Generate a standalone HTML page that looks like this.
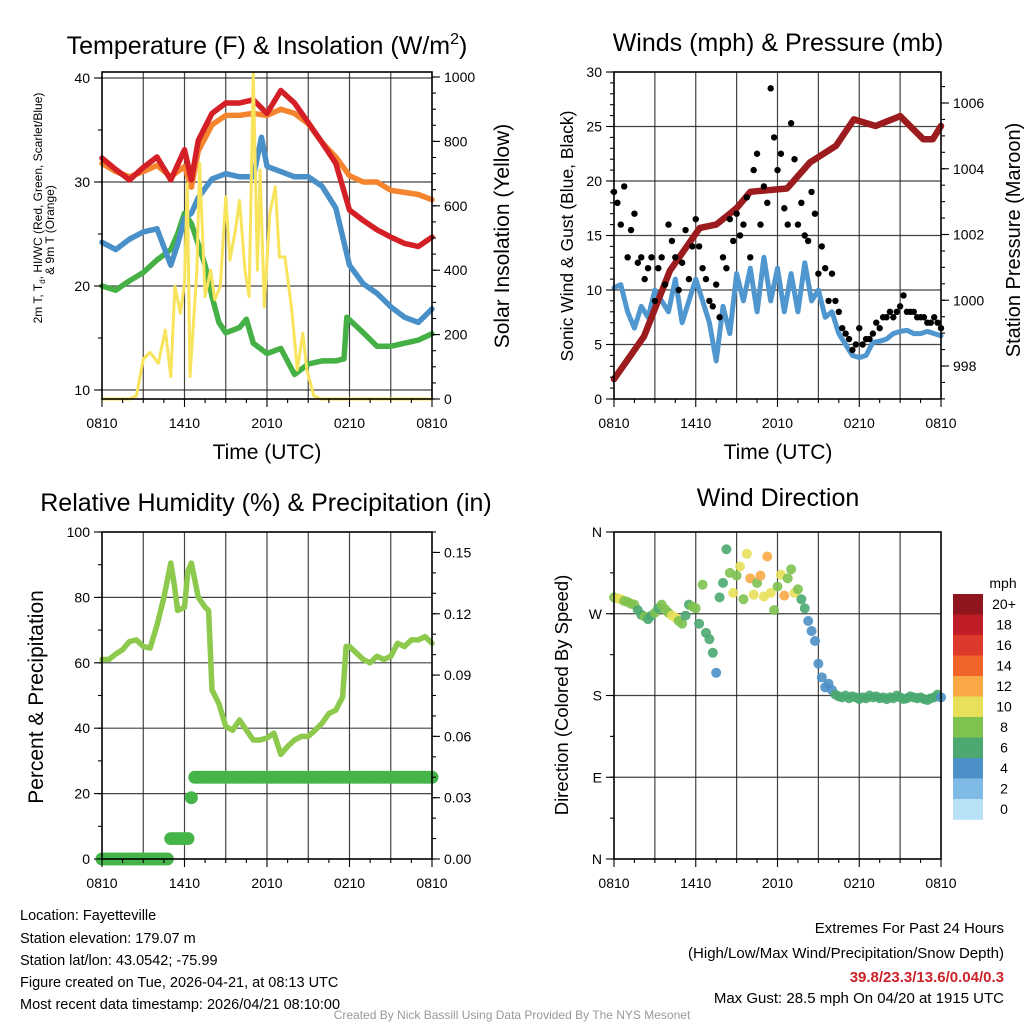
<!DOCTYPE html>
<html><head><meta charset="utf-8"><title>Mesonet Station Meteogram</title>
<style>
html,body{margin:0;padding:0;background:#fff;}
svg{display:block;font-family:"Liberation Sans",Arial,sans-serif;}
</style></head>
<body>
<svg id="chart" width="1024" height="1024" viewBox="0 0 1024 1024" xmlns="http://www.w3.org/2000/svg">
<rect x="0" y="0" width="1024" height="1024" fill="#fff"/>
<g id="grids"></g>
<g id="marks"></g>
<g id="axes"></g>

<text x="267" y="54" font-size="25" text-anchor="middle">Temperature (F) &amp; Insolation (W/m<tspan dy="-10" font-size="16">2</tspan><tspan dy="10">)</tspan></text>
<text x="778" y="51" font-size="25" text-anchor="middle">Winds (mph) &amp; Pressure (mb)</text>
<text x="266" y="511" font-size="25" text-anchor="middle">Relative Humidity (%) &amp; Precipitation (in)</text>
<text x="778" y="506" font-size="25" text-anchor="middle">Wind Direction</text>

<text transform="translate(42,208) rotate(-90)" font-size="12" text-anchor="middle">2m T, T<tspan font-size="8" dy="3">d</tspan><tspan dy="-3">, HI/WC (Red, Green, Scarlet/Blue)</tspan></text>
<text transform="translate(54,230) rotate(-90)" font-size="12" text-anchor="middle">&amp; 9m T (Orange)</text>
<text transform="translate(509,236) rotate(-90)" font-size="21" text-anchor="middle">Solar Insolation (Yellow)</text>
<text x="267" y="459" font-size="21" text-anchor="middle">Time (UTC)</text>

<text transform="translate(573,236) rotate(-90)" font-size="17.5" text-anchor="middle">Sonic Wind &amp; Gust (Blue, Black)</text>
<text transform="translate(1020,240) rotate(-90)" font-size="20" text-anchor="middle">Station Pressure (Maroon)</text>
<text x="778" y="459" font-size="21" text-anchor="middle">Time (UTC)</text>

<text transform="translate(43,697) rotate(-90)" font-size="21" text-anchor="middle">Percent &amp; Precipitation</text>
<text transform="translate(568,695) rotate(-90)" font-size="18.5" text-anchor="middle">Direction (Colored By Speed)</text>

<text x="1003" y="588" font-size="14" text-anchor="middle">mph</text>
<g id="colorbar"></g>

<g font-size="14.5">
<text x="20" y="920">Location: Fayetteville</text>
<text x="20" y="943">Station elevation: 179.07 m</text>
<text x="20" y="965">Station lat/lon: 43.0542; -75.99</text>
<text x="20" y="987">Figure created on Tue, 2026-04-21, at 08:13 UTC</text>
<text x="20" y="1009">Most recent data timestamp: 2026/04/21 08:10:00</text>
</g>
<g font-size="15" text-anchor="end">
<text x="1004" y="933">Extremes For Past 24 Hours</text>
<text x="1004" y="958">(High/Low/Max Wind/Precipitation/Snow Depth)</text>
<text x="1004" y="982" fill="#cc2229" font-weight="bold">39.8/23.3/13.6/0.04/0.3</text>
<text x="1004" y="1003">Max Gust: 28.5 mph On 04/20 at 1915 UTC</text>
</g>
<text x="512" y="1019" font-size="12" fill="#999" text-anchor="middle">Created By Nick Bassill Using Data Provided By The NYS Mesonet</text>
</svg>

<script>
// ---------- data ----------
const xTickLabels = ["0810","1410","2010","0210","0810"];
const redHours = [0,1,2,3,4,5,6,6.5,7,8,9,10,11,12,13,14,15,16,17,18,19,20,21,22,23,24];
const redTemp = [32.3,31.2,30.2,31.4,32.4,30.2,33.1,30.2,34,36.6,37.6,37.6,37.9,36.6,38.8,37.6,35.7,33.8,31.8,27.3,26.3,25.4,24.7,24.1,23.8,24.7];
const orangeTemp = [31.8,31,30.5,31,31.6,30.5,31.5,29.5,33,35.5,36.4,36.4,36.6,36.4,37,36.6,35.6,33.8,32.4,30.6,30,30,29.2,29,28.8,28.3];
const blueHours = [0,1,2,3,4,5,5.5,6,6.5,7,8,9,10,11,11.6,12,13,14,15,16,17,18,19,20,21,22,23,24];
const blueTemp = [24.2,23.5,24.5,25.2,25.5,22,24,26.5,27,28.5,30.3,30.8,30.5,30.5,34.3,31.5,31,30.5,30.5,29.6,27.5,22,20.2,19.3,18,17,16.5,17.8];
const greenHours = [0,1,2,3,4,5,5.5,6,6.5,7,7.5,8,8.5,9,10,10.5,11,12,13,14,15,16,17,17.6,17.8,19,20,21,22,23,24];
const greenTemp = [20,19.6,20.5,21.3,22.5,23.5,25,27,26,24,22,19,16.5,15.5,16,16.8,14.5,13.5,14,11.5,12.5,12.8,12.8,13,17,15.5,14.2,14.2,14.5,14.8,15.4];
const solarHours = [0,2,2.5,3,3.5,4.1,4.6,5.0,5.3,5.7,6.0,6.2,6.4,6.9,7.1,7.5,7.9,8.2,8.6,9.0,9.3,9.7,10.0,10.4,10.7,11.0,11.3,11.5,11.8,12.2,12.6,12.9,13.3,13.8,14.2,14.6,14.9,15.4,15.9,24];
const solarVals = [0,0,10,124,145,111,214,70,350,266,358,669,70,400,732,318,400,308,350,628,431,524,617,400,318,1011,400,711,287,576,659,441,441,276,90,204,90,10,0,0];

const pressHours = [0,2.2,4.1,6.3,7.5,9,10,12.7,14.4,16.3,17.6,19.2,21,22.7,23.4,24];
const pressVals = [997.6,998.9,1000.9,1002.2,1002.3,1002.8,1003.3,1003.4,1004.2,1004.7,1005.5,1005.3,1005.6,1004.9,1004.9,1005.3];
const windVals = [10.2,10.5,8,6.5,8.5,7.5,10,9,8,11,7,9,11,9,7,3.5,8.5,6,11.5,9,12,8,13,9,12,8,11.5,8,12.5,9,10,7.5,8,6,5,4,3.8,4,5.2,5.3,5.5,6,6.2,6.3,6,6,6.2,6,5.8];
const gustVals = [19,18,16,19.5,13,15.5,17,12.5,13,11,12,13,9,12,13,10.5,16,14.5,13,10,12.5,15.5,11,14,16.5,14,12,11,9,8.5,10.5,7.5,13,12,16.5,14.5,17,15,16,18.5,13,21,22.5,16,19.5,18,28.5,24,21,22.5,17.5,16,25.3,22,16,18,15,14.5,19,17,11.5,14,12,9,11.5,9,8,6.5,6,5.5,4.5,5,6.5,5,5.5,5.5,6,7,6.5,7.5,7.5,8,7.5,8,8.5,9.5,8,8,8,7.5,7.5,7.5,7,7,7.5,7,6.5];

const rhHours = [0,0.5,1,1.5,2,2.5,3,3.5,4,4.5,5,5.25,5.5,6,6.25,6.5,7,7.5,7.75,8,8.5,9,9.5,10,10.5,11,11.5,12,12.5,13,13.5,14,14.5,15,15.5,16,16.5,17,17.5,17.75,18,18.5,19,19.5,20,20.5,21,21.5,22,22.5,23,23.5,24];
const rhVals = [61,61,62.7,64,66.5,67,65,64.5,71.5,80,90.5,84,76,77,88,90.5,80,77,76,51.7,47.5,40.5,39.4,42.5,39.4,36.4,36.4,37,38.5,32,34.4,36.4,37.5,37.5,39.4,41.5,44.5,45.5,49.5,65,65,63,61,60,62,61,62,66,65,67,67,68,66];
const precipVals = [0,0,0,0,0,0,0,0,0,0,0,0,0,0,0,0,0,0,0,0,0.01,0.01,0.01,0.01,0.01,0.01,0.03,0.04,0.04,0.04,0.04,0.04,0.04,0.04,0.04,0.04,0.04,0.04,0.04,0.04,0.04,0.04,0.04,0.04,0.04,0.04,0.04,0.04,0.04,0.04,0.04,0.04,0.04,0.04,0.04,0.04,0.04,0.04,0.04,0.04,0.04,0.04,0.04,0.04,0.04,0.04,0.04,0.04,0.04,0.04,0.04,0.04,0.04,0.04,0.04,0.04,0.04,0.04,0.04,0.04,0.04,0.04,0.04,0.04,0.04,0.04,0.04,0.04,0.04,0.04,0.04,0.04,0.04,0.04,0.04,0.04,0.04];

const dirVals = [288,287,286,284,283,281,280,274,269,267,264,268,271,276,280,275,271,268,266,262,259,268,280,278,276,259,302,249,242,227,205,288,304,341,315,293,312,322,286,336,309,291,304,312,289,333,293,274,300,313,290,309,319,293,297,286,276,262,251,240,215,200,189,193,186,181,179,178,180,177,179,178,176,178,177,180,178,179,177,178,176,178,177,180,178,176,177,179,178,177,178,176,175,177,178,181,178];
const dirSpeed = [9,10,10,9,8,9,8,7,7,8,7,7,8,7,9,8,9,10,10,9,8,7,7,8,9,7,8,7,6,6,4,7,7,7,9,10,8,10,9,10,12,11,9,13,10,12,11,9,8,11,12,9,8,10,9,7,6,4,4,4,4,4,4,4,4,6,6,6,7,6,6,6,6,6,7,6,6,6,6,6,6,7,6,6,6,6,6,6,6,7,6,6,6,6,6,6,4];
const cbLabels = ["20+","18","16","14","12","10","8","6","4","2","0"];
const cbColors = ["#8f161c","#c01d26","#de3a2c","#f1652b","#f8a846","#e8e05a","#7ec250","#4aa870","#4b90c8","#7fbbe6","#b8e2f8"];

// ---------- helpers ----------
const NS = "http://www.w3.org/2000/svg";
const G = document.getElementById("grids"), M = document.getElementById("marks"), A = document.getElementById("axes");
function mk(parent, tag, attrs){const e=document.createElementNS(NS,tag);for(const k in attrs)e.setAttribute(k,attrs[k]);parent.appendChild(e);return e;}
function lin(d0,d1,r0,r1){return v=>r0+(v-d0)*(r1-r0)/(d1-d0);}

const P = {
  temp:{x0:102,x1:432,y0:72,y1:399},
  wind:{x0:614,x1:941,y0:72,y1:399},
  rh:{x0:102,x1:432,y0:532,y1:859},
  dir:{x0:614,x1:941,y0:532,y1:859}
};
const xs = {}; for(const k in P){xs[k]=lin(0,24,P[k].x0,P[k].x1);}
const yTemp = lin(10,40,390,78), ySolar = lin(0,1000,399,77);
const yWind = lin(0,30,399,72), yPress = lin(998,1006,366,103);
const yRH = lin(0,100,859,532), yPrecip = lin(0,0.16,859,532);
const yDir = lin(0,360,859,532);

function path(xf,yf,hrs,vals){return vals.map((v,i)=>(i?"L":"M")+xf(hrs[i]).toFixed(1)+","+yf(v).toFixed(1)).join("");}
function idxHours(n){return Array.from({length:n},(_,i)=>i*24/(n-1));}

// ---------- grids ----------
function grid(p,ys){
  const b=P[p];
  for(let h=3;h<24;h+=3){const l=mk(G,"line",{x1:xs[p](h),x2:xs[p](h),y1:b.y0,y2:b.y1,stroke:"#222","stroke-width":1.2,"stroke-opacity":0.85});
    
    }
  ys.forEach(y=>{const l=mk(G,"line",{x1:b.x0,x2:b.x1,y1:y,y2:y,stroke:"#222","stroke-width":1.2,"stroke-opacity":0.85});
    
    });
}
grid("temp",[10,20,30,40].map(yTemp));
grid("wind",[5,10,15,20,25].map(yWind));
grid("rh",[20,40,60,80].map(yRH));
grid("dir",[90,180,270].map(yDir));

// ---------- panel 1 ----------
function line(d,color,w,name){const e=mk(M,"path",{d:d,fill:"none",stroke:color,"stroke-width":w,"stroke-linejoin":"round","stroke-linecap":"round"});
  
  return e;}
line(path(xs.temp,yTemp,greenHours,greenTemp),"#44b045",5.5,"dewpoint-line");
line(path(xs.temp,yTemp,blueHours,blueTemp),"#4a90c8",5.5,"heat-index-windchill-line");
line(path(xs.temp,yTemp,redHours,orangeTemp),"#f5842f",5.5,"9m-temperature-line");
line(path(xs.temp,yTemp,redHours,redTemp),"#d41f26",5.5,"2m-temperature-line");
line(path(xs.temp,ySolar,solarHours,solarVals),"#f8e35c",3,"solar-insolation-line");

// ---------- panel 2 ----------
line(path(xs.wind,yWind,idxHours(windVals.length),windVals),"#5097d0",5,"sonic-wind-line");
line(path(xs.wind,yPress,pressHours,pressVals),"#9b1b1e",6.5,"station-pressure-line");
const gh = idxHours(gustVals.length);
gustVals.forEach((v,i)=>{const c=mk(M,"circle",{cx:xs.wind(gh[i]),cy:yWind(v),r:3.2,fill:"#000"});
  
  });

// ---------- panel 3 ----------
line(path(xs.rh,yRH,rhHours,rhVals),"#8dc94c",5.5,"relative-humidity-line");
const ph = idxHours(precipVals.length);
precipVals.forEach((v,i)=>{const c=mk(M,"circle",{cx:xs.rh(ph[i]),cy:yPrecip(v),r:6.5,fill:"#45b449"});
  
  });

// ---------- panel 4 ----------
const dh = idxHours(dirVals.length);
dirVals.forEach((v,i)=>{const k=Math.min(10,Math.floor(dirSpeed[i]/2));
  const c=mk(M,"circle",{cx:xs.dir(dh[i]),cy:yDir(v),r:5,fill:cbColors[10-k],"fill-opacity":0.9});
  
  });

// colorbar
const CB=document.getElementById("colorbar");
cbLabels.forEach((lab,i)=>{const y=594+i*20.5;
  const r=mk(CB,"rect",{x:953,y:y,width:30,height:20.8,fill:cbColors[i]});
  
  
  const t=mk(CB,"text",{x:1004,y:y+15,"font-size":14,"text-anchor":"middle"});t.textContent=lab;
  
  });

// ---------- axes ----------
function frame(p){const b=P[p];const r=mk(A,"rect",{x:b.x0,y:b.y0,width:b.x1-b.x0,height:b.y1-b.y0,fill:"none",stroke:"#000","stroke-width":1.6});
  
  }
function tick(x1,y1,x2,y2){const l=mk(A,"line",{x1,y1,x2,y2,stroke:"#000","stroke-width":1.1});
  
  }
function label(x,y,txt,anchor,size){const t=mk(A,"text",{x,y,"text-anchor":anchor,"font-size":size||14});t.textContent=txt;
  
  }
function yAxis(p,side,vals,yf,fmt,minorVals){
  const b=P[p];const x=side==="L"?b.x0:b.x1;const s=side==="L"?-1:1;
  minorVals.forEach(v=>{const y=yf(v);if(y>=b.y0-0.5&&y<=b.y1+0.5)tick(x,y,x+s*4,y);});
  vals.forEach((v,i)=>{const y=yf(v);tick(x,y,x+s*8,y);label(x+s*12,y+5,fmt(v,i),side==="L"?"end":"start");});
}
function xAxis(p){const b=P[p];
  for(let h=0;h<=24;h+=1.5){tick(xs[p](h),b.y1,xs[p](h),b.y1+(h%6===0?8:4));}
  xTickLabels.forEach((t,i)=>label(xs[p](i*6),b.y1+29,t,"middle"));}
function range(a,b,s){const r=[];for(let v=a;v<=b+1e-9;v+=s)r.push(+v.toFixed(4));return r;}

["temp","wind","rh","dir"].forEach(frame);
["temp","wind","rh","dir"].forEach(xAxis);
yAxis("temp","L",[10,20,30,40],yTemp,v=>v,range(10,40,5));
yAxis("temp","R",range(0,1000,200),ySolar,v=>v,range(0,1000,50));
yAxis("wind","L",range(0,30,5),yWind,v=>v,range(0,30,1));
yAxis("wind","R",range(998,1006,2),yPress,v=>v,range(997,1007,0.5));
yAxis("rh","L",range(0,100,20),yRH,v=>v,range(0,100,10));
yAxis("rh","R",range(0,0.15,0.03),yPrecip,v=>v.toFixed(2),range(0,0.16,0.01));
const dirLabels=["N","E","S","W","N"];
yAxis("dir","L",[0,90,180,270,360],yDir,(v,i)=>dirLabels[i],range(0,360,45));
</script>
</body></html>
